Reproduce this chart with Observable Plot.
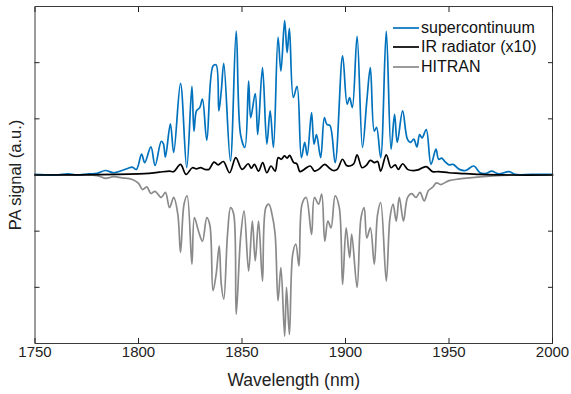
<!DOCTYPE html>
<html>
<head>
<meta charset="utf-8">
<script src="https://cdn.jsdelivr.net/npm/d3@7"></script>
<script src="https://cdn.jsdelivr.net/npm/@observablehq/plot@0.6"></script>
<style>
  html, body { margin: 0; padding: 0; background: #fff; }
  #wrap { position: relative; width: 571px; height: 394px; font-family: "Liberation Sans", Arial, sans-serif; }
  #legend { position: absolute; left: 393px; top: 18px; font-size: 16px; color: #111; }
  #legend div { display: flex; align-items: center; height: 19.5px; }
  #legend svg { margin-right: 2px; }
</style>
</head>
<body>
<div id="wrap"></div>
<script>
const xTicks = [1750, 1800, 1850, 1900, 1950, 2000];
const yTicks = [-2, -1, 0, 1, 2];
const seriesNames = ["supercontinuum", "IR radiator (x10)", "HITRAN"];
const seriesColors = ["#0072BD", "#000000", "#8a8a8a"];

const scWl = [1750,1760,1766,1770,1776,1780,1784,1788,1792,1795,1797,1799,1801.5,1803,1806,1808,1811,1812,1813,1815.4,1817,1820.3,1823.3,1825.8,1826.8,1828,1829.6,1830.9,1833,1836,1837.5,1838.8,1840,1841.2,1844.4,1847.2,1849.3,1851.4,1853.2,1854.2,1856.4,1857.6,1859.9,1862,1863.6,1865.2,1867.4,1868.8,1870.6,1871.8,1872.9,1874.8,1876.6,1878.7,1880.3,1881.5,1883.6,1884.8,1886,1888,1889.8,1891,1892.5,1895,1898.6,1900.8,1902,1903.3,1905.6,1908.2,1910.3,1912,1913.9,1915,1917,1919.7,1922,1923.7,1925,1927.6,1929.9,1931.5,1933,1934.5,1935.8,1937,1939,1941.3,1943.7,1945,1946.5,1948,1950,1952,1955,1958,1962,1965,1968,1970.6,1974,1979,1982,1990,2000];
const scVal = [0.01,0.0,0.02,0.0,0.02,0.03,0.08,0.04,0.08,0.12,0.14,0.1,0.37,0.22,0.5,0.17,0.6,0.56,0.32,0.91,0.4,1.63,0.13,1.58,0.78,1.14,1.2,1.35,0.62,1.94,1.96,1.14,1.5,1.99,0.25,2.56,0.72,0.49,1.67,1.02,1.45,0.72,1.91,0.55,1.14,0.49,2.45,1.85,2.75,2.18,2.61,1.38,1.58,0.31,0.58,0.35,1.11,0.55,0.72,0.31,1.02,0.9,0.88,0.22,2.12,1.26,1.38,1.2,2.47,0.49,1.32,1.91,0.78,0.85,0.31,2.56,0.46,1.08,0.58,1.14,0.64,0.58,0.64,0.5,0.72,0.66,0.81,0.19,0.46,0.28,0.3,0.24,0.18,0.19,0.1,0.08,0.16,0.04,0.03,0.07,0.02,0.06,0.01,0.01,0.01];

const irWl = [1750,1790,1800,1805,1810,1815,1817,1820.3,1823,1826,1828,1830,1832,1834,1836.5,1838.5,1841,1844,1847,1850,1853,1854.5,1856,1858,1860,1862,1864,1866,1867.5,1869,1870.5,1871.8,1873,1875,1876.5,1878,1880,1883,1885,1887,1890,1892,1894,1896,1898.6,1900.5,1902,1904,1905.6,1908,1910,1912,1914,1915.5,1917,1919.7,1922,1924,1925.5,1927.6,1930,1932,1935,1939,1942,1945,1950,1955,1965,1980,2000];
const irVal = [0,0.01,0.02,0.03,0.05,0.07,0.06,0.19,0.01,0.13,0.11,0.13,0.1,0.1,0.23,0.18,0.24,0.04,0.31,0.1,0.2,0.12,0.19,0.07,0.22,0.04,0.16,0.07,0.31,0.28,0.34,0.3,0.35,0.22,0.2,0.06,0.1,0.16,0.07,0.1,0.19,0.13,0.08,0.1,0.28,0.17,0.16,0.2,0.36,0.13,0.17,0.26,0.22,0.24,0.07,0.36,0.13,0.18,0.1,0.2,0.1,0.08,0.09,0.15,0.06,0.06,0.04,0.03,0.01,0,0];

const hiWl = [1750,1770,1780,1784,1788,1792,1797,1800,1802,1804,1806,1808,1811,1813,1815,1817,1819,1820.3,1822,1823.5,1825.8,1827,1829,1830.9,1833,1834.5,1836,1837.5,1839,1840,1841.2,1843,1844.5,1846,1847.2,1849.3,1851,1853.2,1855,1856.4,1858,1859.9,1861.5,1863,1864.5,1866,1867.4,1868.8,1870.6,1871.5,1872.9,1874.5,1876,1877.5,1879,1881,1883.6,1885,1887,1888.5,1890,1891.5,1893,1895,1897,1898.6,1900.3,1902,1903,1905.6,1907.5,1909,1910.3,1912,1913.9,1915.5,1917,1919.7,1921.5,1923,1924.5,1926,1928,1930,1932,1934,1936,1938,1940,1942,1944,1946,1950,1955,1960,1970,1980,2000];
const hiVal = [0,0,-0.01,-0.06,-0.03,-0.05,-0.08,-0.15,-0.26,-0.21,-0.33,-0.29,-0.4,-0.31,-0.58,-0.4,-0.7,-1.38,-0.52,-0.37,-1.59,-0.76,-1.0,-1.18,-0.76,-0.9,-2.06,-1.77,-1.26,-1.95,-2.21,-1.06,-0.58,-0.7,-2.48,-1.12,-0.64,-1.71,-0.82,-1.53,-0.82,-1.89,-0.58,-0.52,-0.7,-1.05,-2.24,-1.65,-2.87,-2.0,-2.84,-1.41,-1.23,-1.62,-0.52,-0.4,-1.06,-0.4,-0.52,-0.34,-1.18,-0.82,-0.94,-0.37,-0.58,-1.95,-0.94,-1.47,-1.05,-2.0,-0.76,-0.58,-1.12,-0.94,-1.59,-0.7,-0.49,-1.89,-0.76,-0.52,-0.82,-0.4,-0.82,-0.4,-0.33,-0.4,-0.31,-0.46,-0.28,-0.22,-0.14,-0.17,-0.1,-0.07,-0.05,-0.02,0,0];

const toRows = (wl, v, s) => wl.map((w, i) => ({wl: w, v: v[i], s}));
const rows = [
  ...toRows(hiWl, hiVal, seriesNames[2]),
  ...toRows(scWl, scVal, seriesNames[0]),
  ...toRows(irWl, irVal, seriesNames[1])
];

const font = '"Liberation Sans", Arial, sans-serif';
const chart = Plot.plot({
  width: 571,
  height: 394,
  marginLeft: 34.5,
  marginRight: 19,
  marginTop: 6,
  marginBottom: 51,
  style: {fontFamily: font, fontSize: "15px", color: "#222", background: "#fff"},
  x: {domain: [1750, 2000]},
  y: {domain: [-3, 3]},
  color: {domain: seriesNames, range: seriesColors},
  marks: [
    Plot.line(rows, {x: "wl", y: "v", z: "s", stroke: "s", strokeWidth: 1.7, curve: "catmull-rom"}),
    Plot.frame({stroke: "#3a3a3a", strokeWidth: 1}),
    Plot.axisX({anchor: "bottom", ticks: xTicks, tickSize: -5, tickPadding: 8, tickFormat: d => String(d), label: "Wavelength (nm)", labelAnchor: "center", labelOffset: 42, labelArrow: "none", fontSize: 15}),
    Plot.axisX({anchor: "top", ticks: xTicks, tickSize: -5, tickFormat: () => "", label: null}),
    Plot.axisY({anchor: "left", ticks: yTicks, tickSize: -5, tickFormat: () => "", label: "PA signal (a.u.)", labelAnchor: "center", labelOffset: 26, labelArrow: "none"}),
    Plot.axisY({anchor: "right", ticks: yTicks, tickSize: -5, tickFormat: () => "", label: null})
  ]
});
const wrap = document.getElementById("wrap");
wrap.appendChild(chart);
chart.querySelectorAll('[aria-label="x-axis label"] text').forEach(t => t.style.fontSize = "17.5px");
chart.querySelectorAll('[aria-label="y-axis label"] text').forEach(t => t.style.fontSize = "16.5px");

const legend = document.createElement("div");
legend.id = "legend";
seriesNames.forEach((n, i) => {
  const row = document.createElement("div");
  row.innerHTML = `<svg width="26" height="4"><line x1="0" x2="26" y1="2" y2="2" stroke="${seriesColors[i]}" stroke-width="1.7"/></svg><span>${n}</span>`;
  legend.appendChild(row);
});
wrap.appendChild(legend);
</script>
</body>
</html>
